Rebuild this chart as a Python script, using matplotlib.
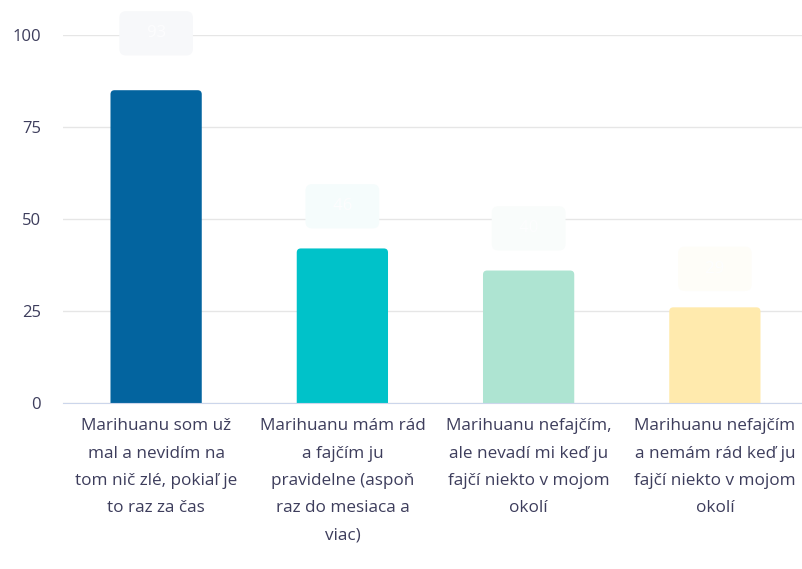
import matplotlib
matplotlib.use("Agg")
import matplotlib.pyplot as plt
from matplotlib.patches import FancyBboxPatch

categories = [
    "Marihuanu som už\nmal a nevidím na\ntom nič zlé, pokiaľ je\nto raz za čas",
    "Marihuanu mám rád\na fajčím ju\npravidelne (aspoň\nraz do mesiaca a\nviac)",
    "Marihuanu nefajčím,\nale nevadí mi keď ju\nfajčí niekto v mojom\nokolí",
    "Marihuanu nefajčím\na nemám rád keď ju\nfajčí niekto v mojom\nokolí",
]
values = [85, 42, 36, 26]
label_values = [93, 46, 40, 29]
colors = ["#03649f", "#00c2c9", "#aee4d2", "#ffeaad"]
box_colors = ["#f7f8fa", "#f5fcfc", "#f9fcfb", "#fefdf8"]
yticks = [0, 25, 50, 75, 100]

plt.rcParams["font.family"] = ["Open Sans", "DejaVu Sans"]
text_color = "#3d3d5c"

fig = plt.figure(figsize=(8.02, 5.69), dpi=100)
ax = fig.add_axes([63 / 802, 1 - 403 / 569, 745 / 802, 368 / 569])

x = list(range(len(values)))
bars = ax.bar(x, values, width=0.49, color=colors)
# swap plain bars for ones with rounded corners
for b, c in zip(bars, colors):
    b.set_visible(False)
    p = FancyBboxPatch((b.get_x(), -3), b.get_width(), b.get_height() + 3,
                       boxstyle="round,pad=0,rounding_size=0.022",
                       mutation_aspect=50.6, facecolor=c, edgecolor="none",
                       zorder=2)
    ax.add_patch(p)

# faint value labels above bars
for xi, v, bc in zip(x, label_values, box_colors):
    ax.annotate(f"   {v}   ", (xi, v), xytext=(0, 14), textcoords="offset points",
                ha="center", va="bottom", fontsize=12, color="#fdfdfe",
                annotation_clip=False,
                bbox=dict(boxstyle="round,pad=0.85,rounding_size=0.4",
                          facecolor=bc, edgecolor="none"))

ax.set_xlim(-0.5, 3.5)
ax.set_ylim(0, 100)
ax.set_yticks(yticks)
ax.set_xticks(x)
ax.set_xticklabels(categories, linespacing=1.95)
ax.tick_params(axis="y", length=0, pad=16, labelsize=12, labelcolor=text_color)
ax.tick_params(axis="x", length=0, pad=11, labelsize=12.3, labelcolor=text_color)
ax.grid(axis="y", color="#e6e6e6", linewidth=1, zorder=0)
ax.set_axisbelow(True)
for s in ["top", "right", "left"]:
    ax.spines[s].set_visible(False)
ax.spines["bottom"].set_color("#ccd6eb")
ax.spines["bottom"].set_zorder(3)

fig.savefig("out.png", dpi=100)
